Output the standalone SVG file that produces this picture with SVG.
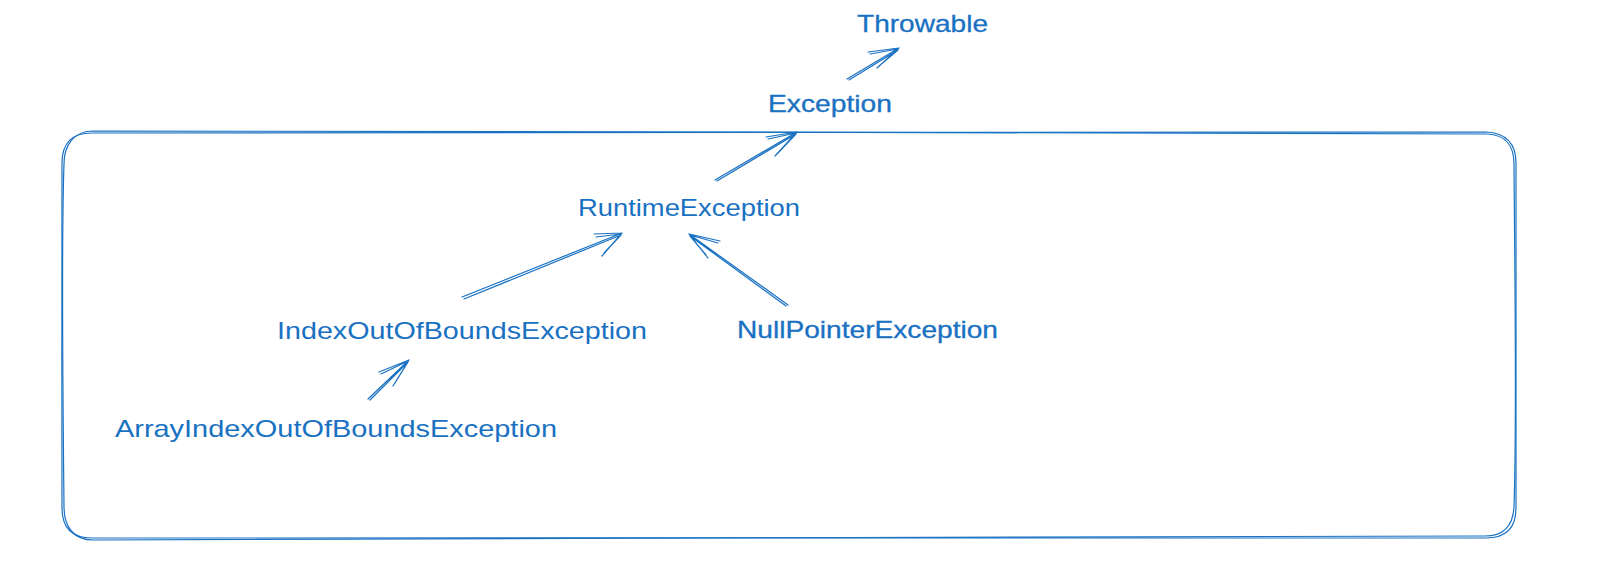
<svg xmlns="http://www.w3.org/2000/svg" width="1600" height="573" viewBox="0 0 1600 573">
<style>
.lbl{font-family:"Liberation Sans","DejaVu Sans",sans-serif;font-size:24px;fill:#1971c2}
.solid{stroke:#1971c2;stroke-width:0.3}
.sk{fill:none;stroke:#1971c2;stroke-width:1.2;stroke-linecap:round;stroke-linejoin:round}
</style>
<rect width="1600" height="573" fill="#ffffff"/>
<g id="frame">
<path class="sk" d="M92 133 C500 131 1100 134 1486 132 C1506 133 1516 143 1516 163 C1517 300 1515 420 1516 508 C1516 528 1506 538 1486 538 C1100 539 500 537 92 538 C72 538 62 528 62 508 C61 400 63 250 62 163 C62 143 72 133 92 133 Z"/>
<path class="sk" d="M93 131 C500 133 1100 131 1487 134 C1505 135 1514 144 1514 164 C1515 300 1517 420 1514 507 C1513 526 1504 536 1485 536 C1100 536 500 539 93 540 C74 540 64 527 64 507 C63 400 61 250 64 164 C64 145 74 131 93 131 Z"/>
</g>
<g id="throwable"><text class="lbl solid" x="857" y="32" textLength="131" lengthAdjust="spacingAndGlyphs">Throwable</text></g>
<g id="exception"><text class="lbl solid" x="768" y="112" textLength="124" lengthAdjust="spacingAndGlyphs">Exception</text></g>
<g id="runtime"><text class="lbl" x="578" y="216" textLength="222" lengthAdjust="spacingAndGlyphs">RuntimeException</text></g>
<g id="indexoob"><text class="lbl" x="277" y="339" textLength="370" lengthAdjust="spacingAndGlyphs">IndexOutOfBoundsException</text></g>
<g id="nullpointer"><text class="lbl solid" x="737" y="338" textLength="261" lengthAdjust="spacingAndGlyphs">NullPointerException</text></g>
<g id="arrayindexoob"><text class="lbl" x="115" y="437" textLength="442" lengthAdjust="spacingAndGlyphs">ArrayIndexOutOfBoundsException</text></g>
<g id="connectors">
<!-- Exception -> Throwable -->
<path class="sk" d="M847 79 L899 48 M849 80 L898 50 M899 48 L868 52 M898 49 L870 54 M899 48 L877 68 M898 50 L879 66"/>
<!-- Runtime -> Exception -->
<path class="sk" d="M715 180 L797 132 M717 181 L796 134 M797 132 L766 137 M796 133 L768 139 M797 132 L775 156 M796 134 L777 154"/>
<!-- Index -> Runtime -->
<path class="sk" d="M462 297 L622 233 M464 299 L621 235 M622 233 L594 234 M621 234 L596 237 M622 233 L602 256 M621 235 L604 253"/>
<!-- NullPointer -> Runtime -->
<path class="sk" d="M788 305 L689 234 M786 306 L690 236 M689 234 L720 241 M690 235 L718 243 M689 234 L708 258 M690 236 L706 255"/>
<!-- Array -> Index -->
<path class="sk" d="M368 399 L409 360 M370 400 L408 362 M409 360 L379 372 M408 361 L381 374 M409 360 L393 386 M408 362 L395 383"/>
</g>
</svg>
